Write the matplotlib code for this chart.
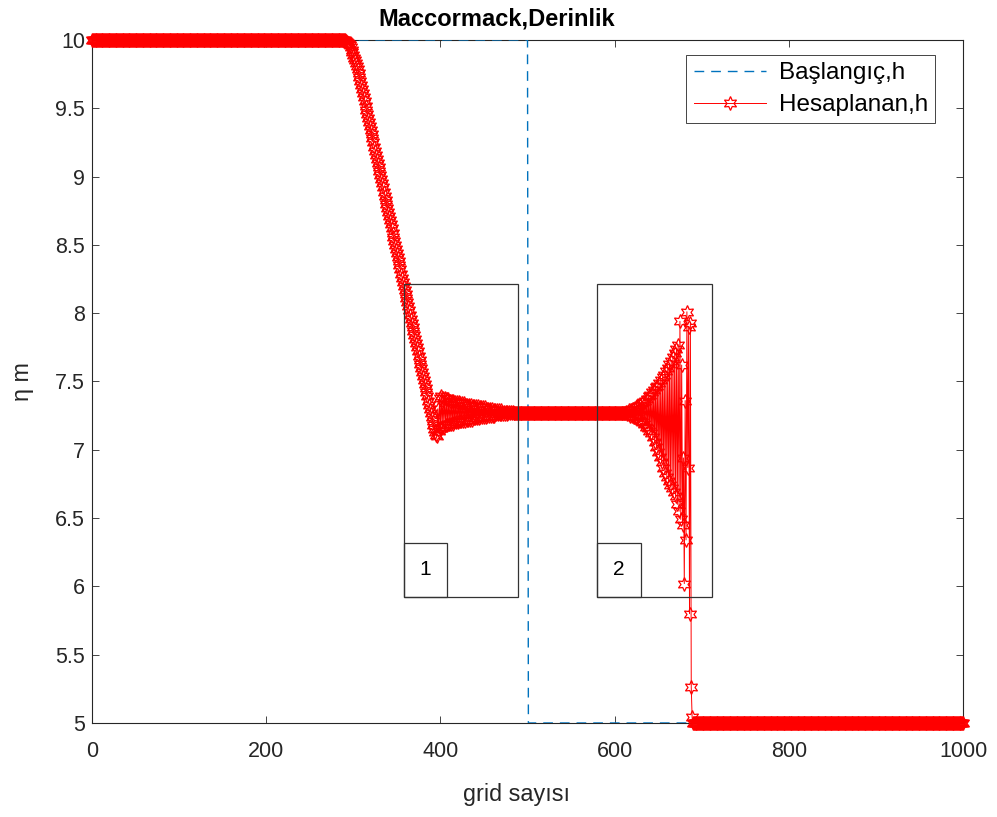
import numpy as np
import matplotlib.pyplot as plt
from matplotlib.patches import Rectangle

plt.rcParams['font.family'] = ['Liberation Sans', 'DejaVu Sans']

# computed depth on grid points 0..1000, segment by segment
h_left = [10.0] * 289                      # x = 0 .. 288
h_ramp = [10.0, 9.998, 9.995, 9.99, 9.985, 9.98, 9.97, 9.96, 9.945, 9.93,
          9.91, 9.89, 9.87, 9.85, 9.83, 9.81,
          9.79, 9.76, 9.73, 9.70, 9.67, 9.64, 9.61, 9.58, 9.55, 9.52,
          9.49, 9.46, 9.43, 9.40, 9.37, 9.34, 9.31, 9.28, 9.25, 9.22,
          9.19, 9.16, 9.13, 9.10, 9.07, 9.04, 9.01, 8.98, 8.95, 8.92,
          8.89, 8.86, 8.83, 8.80, 8.77, 8.74, 8.71, 8.68, 8.65, 8.62,
          8.59, 8.56, 8.53, 8.50, 8.47, 8.44, 8.41, 8.38, 8.35, 8.32,
          8.29, 8.26, 8.23, 8.20, 8.17, 8.14, 8.11, 8.08, 8.05, 8.02,
          7.99, 7.96, 7.93, 7.90, 7.87, 7.84, 7.81, 7.78, 7.75, 7.72,
          7.69, 7.66, 7.63, 7.60, 7.57, 7.54, 7.51, 7.48, 7.45, 7.42,
          7.39, 7.36, 7.33, 7.30, 7.27, 7.24, 7.21, 7.18, 7.15, 7.13,
          7.11, 7.10]                      # x = 289 .. 396
h_zone1 = [7.30, 7.14, 7.38, 7.16, 7.39, 7.17, 7.38, 7.17, 7.38, 7.18,
           7.37, 7.18, 7.37, 7.19, 7.36, 7.19, 7.36, 7.19, 7.36, 7.20,
           7.35, 7.20, 7.35, 7.20, 7.35, 7.21, 7.34, 7.21, 7.34, 7.21,
           7.34, 7.21, 7.33, 7.22, 7.33, 7.22, 7.33, 7.22, 7.33, 7.22,
           7.32, 7.23, 7.32, 7.23, 7.32, 7.23, 7.32, 7.23, 7.31, 7.24,
           7.31, 7.24, 7.31, 7.24, 7.31, 7.24, 7.30, 7.25, 7.30, 7.25,
           7.30, 7.25, 7.30, 7.25, 7.29, 7.25, 7.29, 7.26, 7.29, 7.26,
           7.29, 7.26, 7.29, 7.26, 7.28, 7.26, 7.28, 7.26, 7.28, 7.26,
           7.28, 7.27, 7.28, 7.27, 7.28, 7.27, 7.28, 7.27, 7.27, 7.27,
           7.27, 7.27, 7.27, 7.27, 7.27, 7.27, 7.27, 7.27, 7.27, 7.27,
           7.27, 7.27, 7.27, 7.27]         # x = 397 .. 500
h_mid = [7.27] * 111                       # x = 501 .. 611
h_zone2 = [7.27,
           7.28, 7.26, 7.28, 7.26, 7.29, 7.25, 7.29, 7.25, 7.30, 7.24,
           7.30, 7.24, 7.31, 7.23, 7.32, 7.22, 7.33, 7.21, 7.34, 7.20,
           7.35, 7.19, 7.36, 7.17, 7.37, 7.16, 7.39, 7.14, 7.40, 7.12,
           7.42, 7.09, 7.44, 7.06, 7.46, 7.02, 7.47, 6.98, 7.49, 6.95,
           7.51, 6.91, 7.53, 6.87, 7.55, 6.83, 7.58, 6.80, 7.60, 6.77,
           7.63, 6.74, 7.65, 6.72, 7.68, 6.69, 7.71, 6.66, 7.74, 6.60,
           7.77, 6.55, 7.94, 6.49, 7.62, 6.45, 6.94, 6.02, 7.36, 6.34,
           8.01, 6.87, 7.90, 5.80, 7.93, 5.26,
           5.04, 5.0]                      # x = 612 .. 690
h_right = [5.0] * 310                      # x = 691 .. 1000

h_calc = h_left + h_ramp + h_zone1 + h_mid + h_zone2 + h_right
x = np.arange(len(h_calc))

# initial condition (dam break at x = 500)
h_init = [10.0] * 501 + [5.0] * 500

fig = plt.figure(figsize=(9.97, 8.17), dpi=100)
ax = fig.add_axes([0.0923, 0.1151, 0.8736, 0.836])

ax.plot(x, h_init, color='#0072BD', lw=1.0, dashes=(7, 5), label='Başlangıç,h',
        zorder=3)
ax.plot(x, h_calc, color='red', lw=0.7, marker=(6, 1, 0), markersize=10,
        markerfacecolor='none', markeredgewidth=0.9, label='Hesaplanan,h',
        zorder=3, clip_on=False)

ax.set_xlim(0, 1000)
ax.set_ylim(5, 10)
ax.set_xticks(np.arange(0, 1001, 200))
ax.set_yticks(np.arange(5, 10.01, 0.5))
ax.set_yticklabels(['5', '5.5', '6', '6.5', '7', '7.5', '8', '8.5', '9', '9.5', '10'])

axc = '#262626'
for s in ax.spines.values():
    s.set_color(axc)
    s.set_linewidth(0.8)
ax.tick_params(direction='in', top=True, right=True, length=5, width=0.6,
               colors=axc, labelsize=15.5, pad=5)
ax.tick_params(axis='x', pad=13)

ax.set_title('Maccormack,Derinlik', fontsize=17, fontweight='bold',
             x=0.465, y=1.031, va='center', pad=0)
ax.set_xlabel('grid sayısı', fontsize=16.8, color=axc, va='center')
ax.xaxis.set_label_coords(0.487, -0.105)
ax.set_ylabel('η m', fontsize=16.8, color=axc, va='center')
ax.yaxis.set_label_coords(-0.080, 0.5)

leg = ax.legend(loc='upper right', bbox_to_anchor=(0.968, 0.978), borderaxespad=0,
                fontsize=17.5, fancybox=False, framealpha=1, edgecolor=axc,
                handlelength=3.0, handletextpad=0.5, borderpad=0.3,
                labelspacing=0.4)
leg.get_frame().set_linewidth(0.6)

# annotation boxes around the two oscillation zones
box_kw = dict(fill=False, edgecolor='#333333', lw=0.9, zorder=5)
ax.add_patch(Rectangle((358.2, 5.922), 130.8, 2.292, **box_kw))
ax.add_patch(Rectangle((358.2, 5.922), 49.4, 0.396, **box_kw))
ax.add_patch(Rectangle((579.8, 5.922), 132.0, 2.292, **box_kw))
ax.add_patch(Rectangle((579.8, 5.922), 50.5, 0.396, **box_kw))
ax.text(383, 6.12, '1', fontsize=15, ha='center', va='center', zorder=6)
ax.text(605, 6.12, '2', fontsize=15, ha='center', va='center', zorder=6)

fig.savefig('out.png', dpi=100)
